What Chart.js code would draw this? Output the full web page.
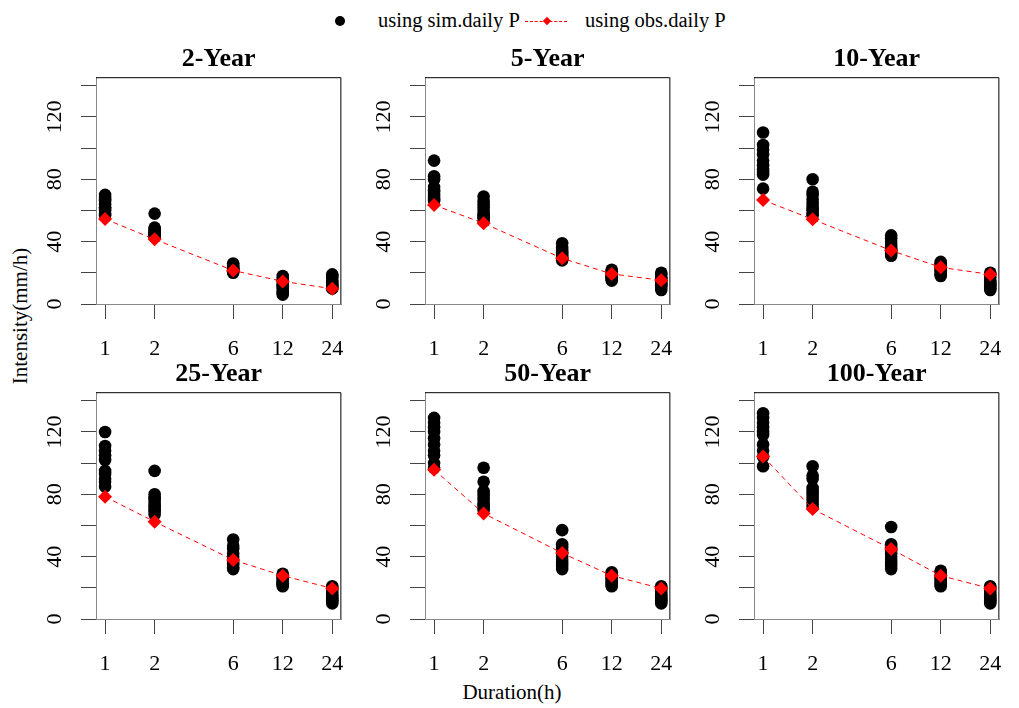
<!DOCTYPE html>
<html>
<head>
<meta charset="utf-8">
<script src="https://cdn.jsdelivr.net/npm/chart.js@4.4.1/dist/chart.umd.min.js"></script>
<style>
  body { margin: 0; background: #fff; width: 1019px; height: 708px; overflow: hidden; position: relative;
         font-family: "Liberation Serif", serif; color: #000; }
  canvas { position: absolute; }
  .txt { position: absolute; font-size: 21px; line-height: 21px; white-space: nowrap; }
  .leg { font-size: 20.5px; }
  .dot { position: absolute; width: 10px; height: 10px; border-radius: 50%; background: #000; }
  .dash { position: absolute; height: 0; border-top: 1px dashed #ff0000; }
  .dia { position: absolute; width: 6px; height: 6px; background: #ff0000; transform: rotate(45deg); }
</style>
</head>
<body>

<div class="dot" style="left:335px; top:16px;"></div>
<div class="txt leg" style="left:378px; top:10px;">using sim.daily P</div>
<div class="dash" style="left:525px; top:21px; width:42px;"></div>
<div class="dia" style="left:544px; top:18px;"></div>
<div class="txt leg" style="left:585px; top:10px;">using obs.daily P</div>

<div class="txt" style="left:20px; top:316px; transform: translate(-50%, -50%) rotate(-90deg);">Intensity(mm/h)</div>
<div class="txt" style="left:512px; top:692px; transform: translate(-50%, -50%);">Duration(h)</div>

<script>
const durations = [1, 2, 6, 12, 24];
const panelTitles = ['2-Year', '5-Year', '10-Year', '25-Year', '50-Year', '100-Year'];
const yTickLabels = [0, 40, 80, 120];

// simulated intensities (mm/h), one row per duration 1, 2, 6, 12, 24 h
const sim2 = [
  [70, 68, 67, 66, 64, 62, 61, 60, 58, 57],
  [58, 49, 48, 47, 46, 45, 45, 44, 44, 43],
  [26, 25, 24, 23, 23, 22, 22, 21, 21, 20],
  [18, 16, 15, 13, 12, 11, 10, 8, 7, 6],
  [19, 18, 17, 15, 14, 13, 12, 11, 10, 10]
];
const sim5 = [
  [92, 82, 80, 75, 73, 72, 70, 68, 67, 66],
  [69, 66, 64, 62, 60, 58, 57, 56, 55, 53],
  [39, 36, 34, 33, 32, 31, 30, 29, 29, 28],
  [22, 21, 20, 19, 18, 18, 17, 16, 16, 15],
  [20, 19, 17, 16, 15, 14, 13, 12, 11, 9]
];
const sim10 = [
  [110, 102, 99, 96, 92, 89, 86, 84, 83, 74],
  [80, 72, 70, 67, 65, 63, 61, 60, 58, 57],
  [44, 42, 40, 38, 36, 35, 34, 33, 32, 31],
  [27, 26, 25, 24, 23, 22, 21, 20, 19, 18],
  [20, 19, 17, 15, 14, 13, 12, 11, 10, 9]
];
const sim25 = [
  [120, 111, 108, 105, 102, 95, 93, 90, 88, 85],
  [95, 80, 78, 77, 75, 73, 72, 70, 69, 67],
  [51, 47, 45, 42, 40, 38, 36, 35, 33, 32],
  [29, 28, 27, 26, 25, 24, 23, 23, 22, 21],
  [21, 20, 18, 16, 15, 14, 13, 12, 11, 10]
];
const sim50 = [
  [129, 126, 123, 120, 116, 112, 108, 105, 100, 97],
  [97, 88, 82, 80, 78, 76, 74, 73, 71, 70],
  [57, 48, 46, 44, 42, 40, 38, 36, 34, 32],
  [30, 29, 28, 27, 26, 25, 24, 23, 22, 21],
  [21, 20, 18, 16, 15, 14, 13, 12, 11, 10]
];
const sim100 = [
  [132, 129, 126, 123, 120, 118, 112, 108, 104, 98],
  [98, 92, 90, 84, 82, 80, 78, 76, 74, 72],
  [59, 48, 46, 44, 42, 40, 38, 36, 34, 32],
  [31, 30, 28, 27, 26, 25, 24, 23, 22, 21],
  [21, 20, 18, 16, 15, 14, 13, 12, 11, 10]
];

// observed-daily-P based intensities
const obs2 = [54.5, 41.5, 21.5, 14.5, 9.8];
const obs5 = [63.5, 51.8, 29.3, 19.3, 15.2];
const obs10 = [66.7, 54.3, 34.3, 23.5, 19.0];
const obs25 = [78.4, 62.4, 37.9, 27.8, 19.6];
const obs50 = [95.8, 67.7, 42.3, 27.8, 19.6];
const obs100 = [104.3, 70.6, 44.9, 27.8, 19.6];

const simAll = [sim2, sim5, sim10, sim25, sim50, sim100];
const obsAll = [obs2, obs5, obs10, obs25, obs50, obs100];

// layout of the plot boxes
const boxLeft = [96, 425, 754];
const boxTop = [77, 392];
const BOX_W = 261, BOX_H = 227;
const YW = 60, XH = 54, TH = 33, RP = 4;
const YMAX = 145.5;
const XMIN = Math.pow(24, -0.04), XMAX = Math.pow(24, 1.04);

const tickFont = { family: "'Liberation Serif', serif", size: 22 };

// top and right sides of the frame
const framePlugin = {
  id: 'frame',
  afterDraw(chart) {
    const { ctx, chartArea: a } = chart;
    ctx.save();
    ctx.strokeStyle = '#000';
    ctx.lineWidth = 1;
    ctx.beginPath();
    ctx.moveTo(a.left, a.top + 0.5);
    ctx.lineTo(a.right - 0.5, a.top + 0.5);
    ctx.lineTo(a.right - 0.5, a.bottom);
    ctx.stroke();
    ctx.restore();
  }
};

function makePanel(i) {
  const col = i % 3, row = Math.floor(i / 3);
  const w = YW + BOX_W + RP, h = TH + BOX_H + XH;
  const cv = document.createElement('canvas');
  cv.width = w; cv.height = h;
  cv.style.left = (boxLeft[col] - YW) + 'px';
  cv.style.top = (boxTop[row] - TH) + 'px';
  cv.style.width = w + 'px';
  cv.style.height = h + 'px';
  document.body.appendChild(cv);

  const simPts = [];
  simAll[i].forEach((vals, k) => vals.forEach(v => simPts.push({ x: durations[k], y: v })));
  const obsPts = obsAll[i].map((v, k) => ({ x: durations[k], y: v }));

  new Chart(cv, {
    type: 'scatter',
    data: {
      datasets: [
        {
          label: 'using obs.daily P',
          data: obsPts,
          showLine: true,
          borderColor: '#ff0000',
          borderWidth: 1,
          borderDash: [5, 4],
          pointStyle: 'rectRot',
          pointRadius: 7,
          pointBackgroundColor: '#ff0000',
          pointBorderWidth: 0
        },
        {
          label: 'using sim.daily P',
          data: simPts,
          pointStyle: 'circle',
          pointRadius: 6.3,
          pointBackgroundColor: '#000',
          pointBorderWidth: 0
        }
      ]
    },
    options: {
      responsive: false,
      animation: false,
      layout: { padding: { left: 0, right: RP, top: 0, bottom: 0 } },
      plugins: {
        legend: { display: false },
        tooltip: { enabled: false },
        title: {
          display: true,
          text: panelTitles[i],
          fullSize: false,
          color: '#000',
          font: { family: "'Liberation Serif', serif", size: 26, weight: 'bold', lineHeight: 1.2 },
          padding: { top: 0, bottom: 2 }
        }
      },
      scales: {
        x: {
          type: 'logarithmic',
          min: XMIN,
          max: XMAX,
          afterBuildTicks: s => { s.ticks = durations.map(v => ({ value: v })); },
          afterFit: s => { s.height = XH; },
          grid: { drawOnChartArea: false, drawTicks: true, tickLength: 15, tickColor: '#444', tickWidth: 1 },
          border: { display: true, color: '#888', width: 1 },
          ticks: {
            color: '#000', font: tickFont, padding: 17, autoSkip: false,
            minRotation: 0, maxRotation: 0,
            callback: v => String(v)
          }
        },
        y: {
          min: 0,
          max: YMAX,
          afterFit: s => { s.width = YW; },
          grid: { drawOnChartArea: false, drawTicks: true, tickLength: 15, tickColor: '#444', tickWidth: 1 },
          border: { display: true, color: '#888', width: 1 },
          ticks: {
            stepSize: 20, includeBounds: false, autoSkip: false,
            minRotation: 90, maxRotation: 90, crossAlign: 'center', padding: 9,
            color: '#000', font: tickFont,
            callback: v => yTickLabels.includes(v) ? String(v) : ''
          }
        }
      }
    },
    plugins: [framePlugin]
  });
}

for (let i = 0; i < 6; i++) makePanel(i);
</script>
</body>
</html>
